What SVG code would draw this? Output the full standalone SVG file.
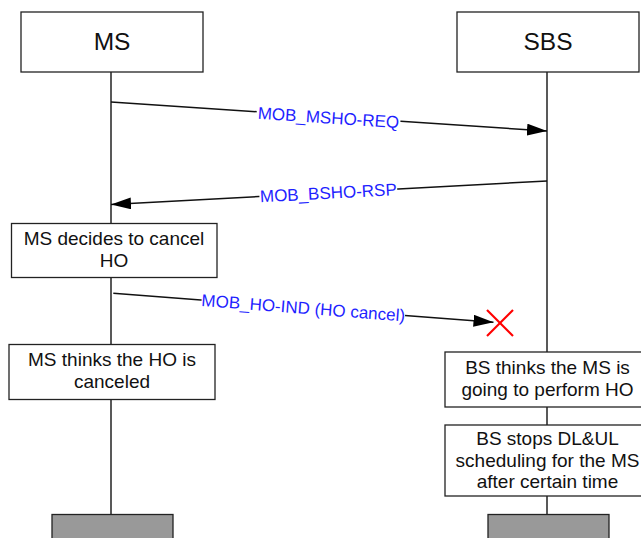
<svg xmlns="http://www.w3.org/2000/svg" width="641" height="538" viewBox="0 0 641 538">
<style>
.box{fill:#fff;stroke:#222;stroke-width:1.3}
.gray{fill:#999;stroke:#222;stroke-width:1.3}
.life{stroke:#222;stroke-width:1.5;fill:none}
.msg{stroke:#111;stroke-width:1.5;fill:none;marker-end:url(#ah)}
.t{font-family:"Liberation Sans",Arial,sans-serif;font-size:19px;fill:#111;text-anchor:middle}
.h{font-family:"Liberation Sans",Arial,sans-serif;font-size:24.5px;fill:#111;text-anchor:middle}
.lbl{font-family:"Liberation Sans",Arial,sans-serif;font-size:17px;fill:#1f1fff;text-anchor:middle}
</style>
<defs>
<marker id="ah" markerUnits="userSpaceOnUse" markerWidth="20" markerHeight="12" refX="20" refY="6" orient="auto">
<path d="M0,0 L20,6 L0,12 z" fill="#000"/>
</marker>
</defs>
<rect width="641" height="538" fill="#fff"/>
<g id="connectors">
<line class="life" x1="111" y1="72" x2="111" y2="514"/>
<line class="life" x1="547" y1="72" x2="547" y2="514"/>
<line class="msg" x1="111" y1="102" x2="547" y2="131"/>
<line class="msg" x1="547" y1="181" x2="111" y2="204.5"/>
<line class="msg" x1="113.3" y1="293.3" x2="493.5" y2="322.3"/>
<g transform="translate(328.5,117.5) rotate(3.8)">
<rect x="-72" y="-10" width="144" height="20" fill="#fff"/>
<text class="lbl" x="0" y="6">MOB_MSHO-REQ</text>
</g>
<g transform="translate(328.3,192.7) rotate(-3.07)">
<rect x="-69" y="-10" width="138" height="20" fill="#fff"/>
<text class="lbl" x="0" y="6">MOB_BSHO-RSP</text>
</g>
<g transform="translate(303.3,307.8) rotate(4.36)">
<rect x="-102" y="-10" width="204" height="20" fill="#fff"/>
<text class="lbl" x="0" y="6">MOB_HO-IND (HO cancel)</text>
</g>
</g>
<g id="x-mark" stroke="#f00" stroke-width="2.2" fill="none">
<line x1="487" y1="310" x2="513" y2="336"/>
<line x1="513" y1="310" x2="487" y2="336"/>
</g>
<g id="ms">
<rect class="box" x="21" y="12" width="182" height="60"/>
<text class="h" x="112" y="49.5">MS</text>
</g>
<g id="sbs">
<rect class="box" x="457" y="12" width="182" height="60"/>
<text class="h" x="548" y="49.5">SBS</text>
</g>
<g id="ms-decides">
<rect class="box" x="11.5" y="223.5" width="205.5" height="54"/>
<text class="t" x="114" y="245">MS decides to cancel</text>
<text class="t" x="114" y="267">HO</text>
</g>
<g id="ms-thinks">
<rect class="box" x="9" y="344.5" width="206" height="55"/>
<text class="t" x="112" y="366">MS thinks the HO is</text>
<text class="t" x="112" y="388">canceled</text>
</g>
<g id="bs-thinks">
<rect class="box" x="445" y="352" width="204" height="55"/>
<text class="t" x="547.5" y="374">BS thinks the MS is</text>
<text class="t" x="547.5" y="396">going to perform HO</text>
</g>
<g id="bs-stops">
<rect class="box" x="445" y="425" width="204" height="71"/>
<text class="t" x="547.5" y="445">BS stops DL&amp;UL</text>
<text class="t" x="547.5" y="466.5">scheduling for the MS</text>
<text class="t" x="547.5" y="488">after certain time</text>
</g>
<g id="ms-end">
<rect class="gray" x="52" y="514.5" width="121" height="30"/>
</g>
<g id="sbs-end">
<rect class="gray" x="488" y="514.5" width="121" height="30"/>
</g>
</svg>
